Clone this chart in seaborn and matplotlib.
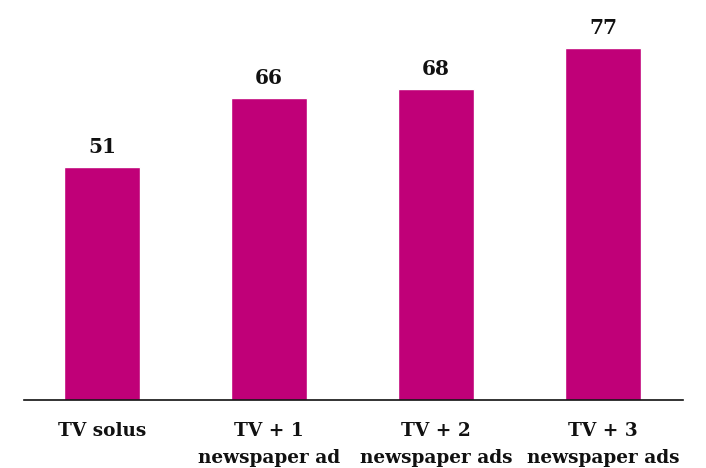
import matplotlib
matplotlib.use("Agg")
import matplotlib.pyplot as plt
import seaborn as sns
import pandas as pd

categories = ["TV solus", "TV + 1\nnewspaper ad", "TV + 2\nnewspaper ads", "TV + 3\nnewspaper ads"]
values = [51, 66, 68, 77]

df = pd.DataFrame({"category": categories, "value": values})

sns.set_theme(style="white")
plt.rcParams["font.family"] = ["DejaVu Serif"]

fig = plt.figure(figsize=(7.06, 4.68), dpi=100)
ax = fig.add_axes([24 / 706, 68 / 468, 659 / 706, 400 / 468])

bar_color = "#C00078"
sns.barplot(data=df, x="category", y="value", color=bar_color, width=0.455,
            saturation=1, ax=ax)

ax.set_xlim(-0.47, 3.48)
ax.set_ylim(0, 87.5)

for i, v in enumerate(values):
    ax.text(i, v + 2.2, str(v), ha="center", va="bottom", fontsize=14.5,
            fontweight="bold", color="#111111")

ax.set_xlabel("")
ax.set_ylabel("")
ax.set_yticks([])
ax.tick_params(axis="x", length=0, pad=16)
for lbl in ax.get_xticklabels():
    lbl.set_fontweight("bold")
    lbl.set_fontsize(13.3)
    lbl.set_color("#111111")
    lbl.set_linespacing(1.65)

for side in ["top", "right", "left"]:
    ax.spines[side].set_visible(False)
ax.spines["bottom"].set_color("#111111")
ax.spines["bottom"].set_linewidth(1.2)

fig.savefig("out.png", dpi=100, facecolor="white")
